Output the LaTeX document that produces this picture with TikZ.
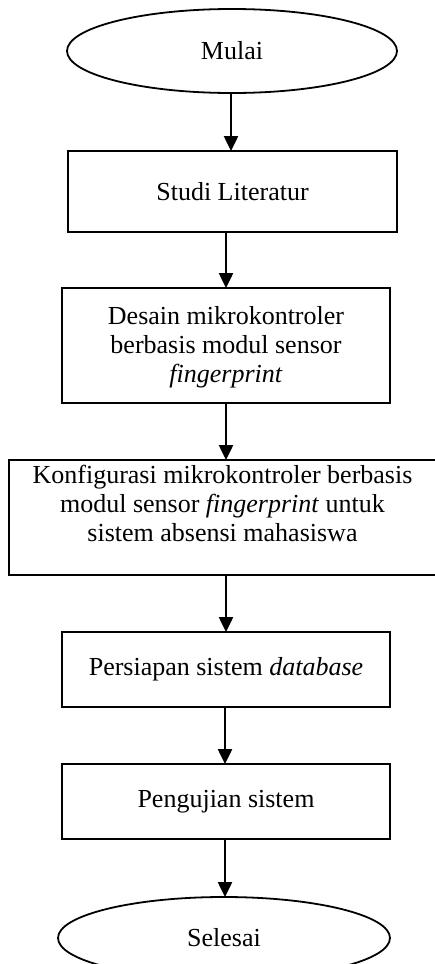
\documentclass[tikz,border=0pt]{standalone}
\usepackage{fontspec}
\setmainfont{Liberation Serif}
\usetikzlibrary{arrows.meta,shapes.geometric}
\begin{document}
\begin{tikzpicture}[x=1pt,y=-1pt,
  every node/.style={font=\fontsize{26}{29}\selectfont},
  stepbox/.style={draw,line width=2pt,rectangle,inner sep=0pt,outer sep=0pt},
  term/.style={draw,line width=1.8pt,ellipse,inner sep=0pt,outer sep=0pt},
  txt/.style={align=center,inner sep=0pt},
  flow/.style={line width=2.5pt,-{Triangle[width=14pt,length=15pt]}}]
\useasboundingbox (0,0) rectangle (435,964);
\node[term,minimum width=330pt,minimum height=84pt] (mulai) at (232,51) {Mulai};
\node[stepbox,minimum width=329pt,minimum height=81pt] (studi) at (232.5,191.5) {Studi Literatur};
\node[stepbox,minimum width=328pt,minimum height=115pt] (desain) at (226,345.5) {};
\node[txt] (desaint) at (226,347) {Desain mikrokontroler\\berbasis modul sensor\\\textit{fingerprint}};
\node[stepbox,minimum width=427pt,minimum height=115pt] (konf) at (222.5,517.5) {};
\node[txt] (konft) at (222.5,503) {Konfigurasi mikrokontroler berbasis\\modul sensor \textit{fingerprint} untuk\\sistem absensi mahasiswa};
\node[stepbox,minimum width=328pt,minimum height=75pt] (pers) at (226,669.5) {Persiapan sistem \textit{database}};
\node[stepbox,minimum width=328pt,minimum height=75pt] (peng) at (226,801.5) {Pengujian sistem};
\node[term,minimum width=332pt,minimum height=82pt] (selesai) at (224,938) {Selesai};
\draw[flow] (mulai.south -| 231,0) -- (studi.north -| 231,0);
\draw[flow] (studi.south -| desain.north) -- (desain.north);
\draw[flow] (desain.south) -- (konf.north -| desain.south);
\draw[flow] (konf.south -| pers.north) -- (pers.north);
\draw[flow] (pers.south -| 225,0) -- (peng.north -| 225,0);
\draw[flow] (peng.south -| 225,0) -- (selesai.north -| 225,0);
\end{tikzpicture}
\end{document}
